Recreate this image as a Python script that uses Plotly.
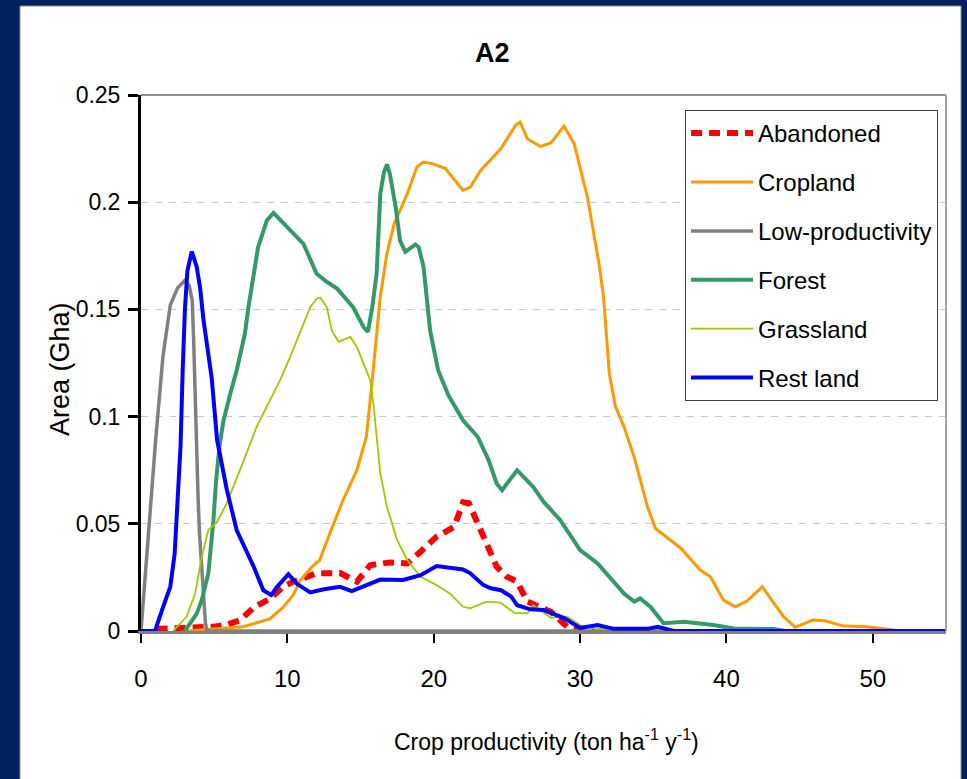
import plotly.graph_objects as go

# ---------------- data ----------------
abandoned_x = [1.07, 3.8, 5.0, 5.86, 6.77, 7.7, 8.8, 9.7, 10.4, 12.0, 13.6, 14.75, 15.66, 17.0, 18.2,
               19.1, 20.2, 21.4, 22.0, 22.4, 23.0, 23.6, 24.3, 25.0, 25.7, 26.4, 28.0, 29.1, 30.25, 31.0]
abandoned_y = [0.001, 0.0014, 0.002, 0.003, 0.005, 0.011, 0.015, 0.0206, 0.023, 0.0269, 0.027, 0.023, 0.0307, 0.032, 0.0315,
               0.037, 0.044, 0.0486, 0.060, 0.0596, 0.050, 0.041, 0.030, 0.0253, 0.023, 0.0137, 0.009, 0.002, 0.001, 0]

cropland_x = [3.1, 4.9, 7.0, 8.8, 9.7, 10.4, 10.9, 11.7, 12.2, 12.9, 13.8, 14.75, 15.4, 15.8, 16.35,
              16.8, 17.3, 18.2, 18.85, 19.3, 19.9, 20.8, 21.5, 22.0, 22.5, 23.2, 24.6, 25.6, 25.9, 26.4,
              27.3, 28.0, 28.9, 29.6, 30.5, 31.3, 31.6, 32.0, 32.4, 33.0, 33.7, 34.6, 35.15, 36.9, 38.2,
              38.9, 39.8, 40.6, 41.4, 42.45, 43.25, 43.9, 44.7, 45.9, 46.7, 48.0, 49.6, 51.0, 52.0, 55]
cropland_y = [0, 0.001, 0.002, 0.0056, 0.011, 0.0168, 0.0238, 0.030, 0.033, 0.0455, 0.061, 0.075, 0.0906, 0.117, 0.156,
              0.176, 0.19, 0.204, 0.2164, 0.2187, 0.218, 0.2157, 0.210, 0.2055, 0.207, 0.2148, 0.225, 0.236, 0.2373, 0.2295,
              0.226, 0.2276, 0.2355, 0.2272, 0.2024, 0.171, 0.156, 0.12, 0.105, 0.0952, 0.081, 0.058, 0.0478, 0.0385, 0.0284,
              0.0253, 0.0144, 0.0113, 0.014, 0.0206, 0.0129, 0.0067, 0.0017, 0.0051, 0.0048, 0.0023, 0.002, 0.0009, 0, 0]

lowprod_x = [0, 0.5, 1.0, 1.5, 2.0, 2.5, 3.0, 3.3, 3.5, 3.6, 3.7, 3.8, 3.9, 4.0, 4.2, 4.4, 4.5, 55]
lowprod_y = [0, 0.047, 0.089, 0.128, 0.152, 0.160, 0.1635, 0.161, 0.154, 0.135, 0.108, 0.085, 0.062, 0.045, 0.024, 0.004, 0, 0]

forest_x = [3.0, 3.8, 4.15, 4.6, 4.95, 5.13, 5.36, 5.63, 6.1, 6.54, 7.1, 7.34, 8.0, 8.6, 9.05,
            9.73, 10.65, 11.1, 12.0, 12.7, 13.4, 14.5, 15.2, 15.5, 15.8, 16.1, 16.35, 16.6, 16.8, 17.0,
            17.4, 17.7, 18.06, 18.74, 18.97, 19.3, 19.76, 20.3, 21.0, 22.0, 23.0, 23.75, 24.3, 24.67, 25.7,
            26.8, 27.5, 28.65, 30.0, 31.2, 33.0, 33.7, 34.1, 34.8, 35.7, 37.1, 39.1, 40.5, 43.2, 44.0, 55]
forest_y = [0, 0.008, 0.0144, 0.027, 0.0517, 0.070, 0.086, 0.098, 0.1107, 0.1216, 0.1387, 0.151, 0.179, 0.1915, 0.195,
            0.19, 0.1837, 0.1806, 0.1666, 0.1628, 0.1597, 0.151, 0.1418, 0.1395, 0.151, 0.1666, 0.204, 0.214, 0.2176, 0.2133,
            0.1977, 0.182, 0.1768, 0.1803, 0.179, 0.17, 0.14, 0.1216, 0.11, 0.0983, 0.0906, 0.0797, 0.0688, 0.0657, 0.075,
            0.0672, 0.0603, 0.0517, 0.0377, 0.0315, 0.0175, 0.0137, 0.0152, 0.0113, 0.0036, 0.0043, 0.0028, 0.0012, 0.0009, 0, 0]

grass_x = [2.2, 3.12, 3.7, 4.15, 4.6, 5.2, 5.86, 6.77, 7.1, 7.9, 8.6, 9.5, 10.2, 10.9, 11.56,
           12.0, 12.24, 12.7, 13.04, 13.5, 14.3, 14.75, 15.4, 15.66, 15.9, 16.35, 16.8, 17.5, 18.2, 19.1,
           20.2, 21.1, 22.0, 22.5, 23.6, 24.55, 25.5, 26.4, 26.8, 28.0, 29.1, 30.0, 30.9, 33.7, 35.3, 36.4, 55]
grass_y = [0, 0.0067, 0.0175, 0.0346, 0.047, 0.051, 0.0595, 0.075, 0.081, 0.0952, 0.1045, 0.117, 0.128, 0.14, 0.151,
           0.155, 0.1555, 0.151, 0.14, 0.1349, 0.1372, 0.1325, 0.1216, 0.117, 0.1045, 0.0735, 0.058, 0.0424, 0.033, 0.0253,
           0.0214, 0.0175, 0.0113, 0.0106, 0.0137, 0.0132, 0.0085, 0.0082, 0.012, 0.0062, 0.0067, 0.0028, 0.0012, 0.001, 0.0017, 0, 0]

rest_x = [0, 0.96, 1.5, 2.0, 2.3, 2.7, 2.85, 3.0, 3.17, 3.47, 3.8, 4.04, 4.27, 4.6, 4.83,
          5.2, 5.86, 6.54, 7.7, 8.36, 8.9, 9.3, 10.07, 10.65, 11.56, 12.5, 13.6, 14.4, 15.3, 16.35,
          17.9, 19.1, 20.2, 21.0, 22.0, 22.5, 23.4, 23.9, 24.6, 25.3, 25.7, 26.6, 27.5, 28.9, 30.0,
          31.2, 32.3, 34.6, 35.3, 36.4, 55]
rest_y = [0, 0, 0.011, 0.0206, 0.036, 0.086, 0.122, 0.15, 0.168, 0.177, 0.17, 0.16, 0.145, 0.13, 0.118,
          0.089, 0.066, 0.047, 0.03, 0.019, 0.0168, 0.0206, 0.0265, 0.022, 0.018, 0.0195, 0.0206, 0.0186, 0.021, 0.024,
          0.0238, 0.026, 0.0303, 0.0295, 0.0287, 0.0269, 0.0214, 0.0199, 0.019, 0.016, 0.012, 0.0101, 0.0098, 0.006, 0.0014,
          0.0028, 0.001, 0.001, 0.002, 0, 0]

x_ticks = [0, 10, 20, 30, 40, 50]
y_ticks = [0, 0.05, 0.1, 0.15, 0.2, 0.25]
y_ticktext = ["0", "0.05", "0.1", "0.15", "0.2", "0.25"]

FONT = "Liberation Sans, Arial, sans-serif"

series = [
    ("Abandoned", abandoned_x, abandoned_y, "#FF0000", 6, "11px,7px"),
    ("Cropland", cropland_x, cropland_y, "#FF9900", 3, "solid"),
    ("Low-productivity", lowprod_x, lowprod_y, "#808080", 3.5, "solid"),
    ("Forest", forest_x, forest_y, "#339966", 4, "solid"),
    ("Grassland", grass_x, grass_y, "#99CC00", 1.8, "solid"),
    ("Rest land", rest_x, rest_y, "#0000FF", 4, "solid"),
]

fig = go.Figure()
for name, xs, ys, col, w, dash in series:
    fig.add_trace(go.Scatter(x=xs, y=ys, mode="lines", name=name, legendgroup=name,
                             line=dict(color=col, width=w, dash=dash)))

W, H = 967, 779
L, R, T, B = 141, 21, 95, 148
pw, ph = W - L - R, H - T - B


def px(xp):
    return (xp - L) / pw


def py(yp):
    return (H - B - yp) / ph


fig.update_layout(
    width=W, height=H,
    margin=dict(l=L, r=R, t=T, b=B, pad=0),
    paper_bgcolor="#002060",
    plot_bgcolor="white",
    font=dict(family=FONT, size=24, color="black"),
    showlegend=True,
    legend=dict(x=px(685), y=py(110), xanchor="left", yanchor="top",
                bgcolor="white", bordercolor="#404040", borderwidth=1,
                font=dict(family=FONT, size=24, color="black"),
                itemwidth=62, tracegroupgap=14.7, traceorder="grouped"),
    xaxis=dict(range=[0, 55], tickvals=x_ticks, ticks="outside", ticklen=9, tickwidth=2,
               tickcolor="black", showline=True, linecolor="#808080", linewidth=3,
               showgrid=False, zeroline=False, tickfont=dict(size=24),
               ticklabelstandoff=15, layer="below traces"),
    yaxis=dict(range=[0, 0.25], tickvals=y_ticks, ticktext=y_ticktext, ticks="outside",
               ticklen=10, tickwidth=3, tickcolor="black", showline=True, linecolor="black",
               linewidth=3, showgrid=True, gridcolor="#C8C8C8", gridwidth=1, griddash="7px,7px",
               zeroline=False, tickfont=dict(size=23), ticklabelstandoff=3, layer="below traces"),
    shapes=[
        dict(type="rect", xref="paper", yref="paper", x0=px(20), x1=px(961), y0=py(800), y1=py(6),
             fillcolor="white", line=dict(color="#909090", width=1), layer="below"),
        dict(type="line", xref="paper", yref="paper", x0=0, x1=1, y0=1, y1=1,
             line=dict(color="#909090", width=2), layer="above"),
        dict(type="line", xref="paper", yref="paper", x0=1, x1=1, y0=0, y1=1,
             line=dict(color="#A0A0A0", width=2), layer="above"),
    ],
    annotations=[
        dict(text="<b>A2</b>", xref="paper", yref="paper", x=px(492), y=py(53),
             xanchor="center", yanchor="middle", showarrow=False, font=dict(size=27)),
        dict(text="Crop productivity (ton ha<sup>-1</sup> y<sup>-1</sup>)", xref="paper", yref="paper",
             x=px(546), y=py(740), xanchor="center", yanchor="middle", showarrow=False,
             font=dict(size=23)),
        dict(text="Area (Gha)", xref="paper", yref="paper", x=px(60), y=py(369), textangle=-90,
             xanchor="center", yanchor="middle", showarrow=False, font=dict(size=27)),
    ],
)

fig.write_html("out.html")
